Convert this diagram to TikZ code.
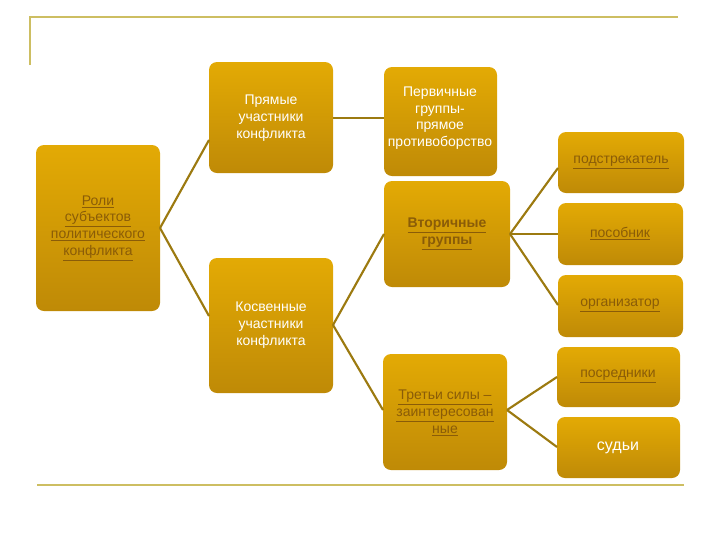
\documentclass[tikz,border=0pt]{standalone}
\usepackage{fontspec}
\setmainfont{Liberation Sans}
\newcommand\myul[1]{\underline{#1}}
\definecolor{gtop}{HTML}{E3AA05}
\definecolor{gbot}{HTML}{BF8A06}
\definecolor{lnk}{HTML}{8A5C08}
\definecolor{conn}{HTML}{9C7A10}
\definecolor{frm}{HTML}{CDBE62}
\begin{document}
\begin{tikzpicture}[x=0.75pt,y=-0.75pt,
  box/.style={rounded corners=6pt,top color=gtop,bottom color=gbot,draw=none},
  lbl/.style={font=\fontsize{10.5pt}{12.5pt}\selectfont,align=center},
  wt/.style={lbl,text=white},
  lk/.style={lbl,text=lnk},
  conn/.style={draw=conn,line width=1.6pt}]
\useasboundingbox (0,0) rectangle (720,540);
\draw[frm,line width=1.5pt] (30,65) -- (30,17) -- (678,17);
\draw[frm,line width=1.5pt] (37,485) -- (684,485);
% boxes
\path[box] (36,145) rectangle (160,311);
\path[box] (209,62) rectangle (333,173);
\path[box] (209,258) rectangle (333,393);
\path[box] (384,67) rectangle (497,176);
\path[box] (384,181) rectangle (510,287);
\path[box] (383,354) rectangle (507,470);
\path[box] (558,132) rectangle (684,193);
\path[box] (558,203) rectangle (683,265);
\path[box] (558,275) rectangle (683,337);
\path[box] (557,347) rectangle (680,407);
\path[box] (557,417) rectangle (680,478);
% anchors
\coordinate (rol) at (160,228);
\coordinate (prL) at (209,140);
\coordinate (prR) at (333,118);
\coordinate (ksL) at (209,316);
\coordinate (ksR) at (333,325);
\coordinate (pvL) at (384,118);
\coordinate (vtL) at (384,234);
\coordinate (vtR) at (510,234);
\coordinate (trL) at (383,410);
\coordinate (trR) at (507,410);
\coordinate (a1) at (558,168);
\coordinate (a2) at (558,234);
\coordinate (a3) at (558,305);
\coordinate (b1) at (557,377);
\coordinate (b2) at (557,447);
\draw[conn] (rol) -- (prL);
\draw[conn] (rol) -- (ksL);
\draw[conn] (prR) -- (pvL);
\draw[conn] (ksR) -- (vtL);
\draw[conn] (ksR) -- (trL);
\draw[conn] (vtR) -- (a1);
\draw[conn] (vtR) -- (a2);
\draw[conn] (vtR) -- (a3);
\draw[conn] (trR) -- (b1);
\draw[conn] (trR) -- (b2);
% texts
\node[lk] (t1) at (98,228) {\myul{Роли}\\\myul{субъектов}\\\myul{политического}\\\myul{конфликта}};
\node[wt] (t2) at (271,118) {Прямые\\участники\\конфликта};
\node[wt] (t3) at (271,325) {Косвенные\\участники\\конфликта};
\node[wt] (t4) at (440,118) {Первичные\\группы-\\прямое\\противоборство};
\node[lk,font=\fontsize{10.5pt}{12.5pt}\selectfont\bfseries] (t5) at (447,234) {\myul{Вторичные}\\\myul{группы}};
\node[lk] (t6) at (445,413) {\myul{Третьи силы –}\\\myul{заинтересован}\\\myul{ные}};
\node[lk] (t7) at (621,163) {\myul{подстрекатель}};
\node[lk] (t8) at (620,234) {\myul{пособник}};
\node[lk] (t9) at (620,306) {\myul{организатор}};
\node[lk] (t10) at (618,377) {\myul{посредники}};
\node[wt,font=\fontsize{12pt}{14pt}\selectfont] (t11) at (618,448) {судьи};
\end{tikzpicture}
\end{document}
